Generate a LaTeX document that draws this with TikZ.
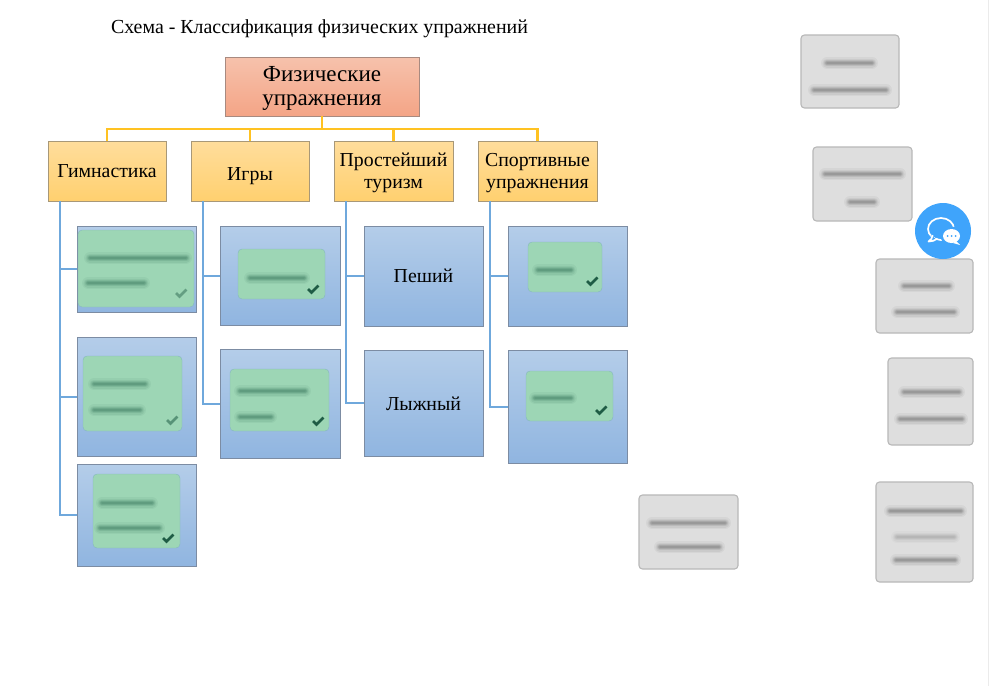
\documentclass[tikz,border=0pt]{standalone}
\usepackage{fontspec}
\setmainfont{Liberation Serif}
\newcommand{\bx}[7]{%
  \pgfmathsetmacro{\bw}{#5-#3}\pgfmathsetmacro{\bh}{#6-#4}%
  \pgfmathsetmacro{\cx}{(#3+#5)/2}\pgfmathsetmacro{\cy}{(#4+#6)/2}%
  \node[#1,minimum width=\bw pt,minimum height=\bh pt] (#2) at (\cx,\cy) {#7};}
% adds 2n to the box height, so that a centred node shows its text n lower
\newcommand{\dn}[2]{\raisebox{0pt}[\dimexpr\height+#1pt+#1pt\relax][\depth]{\begin{tabular}{@{}c@{}}#2\end{tabular}}}
\newcommand{\fz}[4]{%
  \draw[#4,opacity=.06,line width=12pt,line cap=round] (#1,#3) -- (#2,#3);
  \draw[#4,opacity=.08,line width=9pt,line cap=round] (#1,#3) -- (#2,#3);
  \draw[#4,opacity=.12,line width=6.5pt,line cap=round] (#1,#3) -- (#2,#3);
  \draw[#4,opacity=.16,line width=4pt,line cap=round] (#1,#3) -- (#2,#3);
  \draw[#4,opacity=.16,line width=2pt,line cap=round] (#1,#3) -- (#2,#3);}
\newcommand{\chk}[3][1]{%
  \draw[checkcol,line width=2.6pt,opacity=#1] (#2-5,#3) -- (#2-1.5,#3+3.5) -- (#2+5.5,#3-3.5);}
\definecolor{checkcol}{HTML}{1F5C45}
\definecolor{bluetrunk}{HTML}{6FA8DC}
\definecolor{yel}{HTML}{FFC222}
\definecolor{HDRtop}{HTML}{F6C2AC}
\definecolor{HDRbot}{HTML}{F4A486}
\definecolor{LVtop}{HTML}{FFDD9C}
\definecolor{LVbot}{HTML}{FFD06F}
\definecolor{BLtop}{HTML}{B4CDE9}
\definecolor{BLbot}{HTML}{90B5E0}
\definecolor{GRN}{HTML}{9DD6B5}
\definecolor{GRY}{HTML}{DEDEDE}
\definecolor{CHAT}{HTML}{3FA4FB}
\definecolor{BLedge}{HTML}{7C8CA3}
\definecolor{LVedge}{HTML}{A89878}
\definecolor{HDedge}{HTML}{A88A80}
\tikzset{
  x=1pt,y=-1pt,
  every node/.style={inner sep=0pt,outer sep=0pt,align=center},
  rootbox/.style={draw=HDedge,line width=.9pt,top color=HDRtop,bottom color=HDRbot,font=\fontsize{23}{24}\selectfont},
  levelbox/.style={draw=LVedge,line width=.9pt,top color=LVtop,bottom color=LVbot,font=\fontsize{19.8}{22}\selectfont},
  bluebox/.style={draw=BLedge,line width=.9pt,top color=BLtop,bottom color=BLbot,font=\fontsize{19.8}{22}\selectfont},
  greenbox/.style={fill=GRN,rounded corners=4pt,draw=GRN!85!blue,line width=.4pt},
  graybox/.style={fill=GRY,draw=black!28,line width=1.1pt,rounded corners=3.5pt},
  yline/.style={draw=yel,line width=2.2pt},
  bline/.style={draw=bluetrunk,line width=2pt},
}
\begin{document}
\begin{tikzpicture}
\useasboundingbox (0,0) rectangle (1000,686);
\fill[white] (0,0) rectangle (1000,686);
\draw[black!8,line width=1pt] (988,0) -- (988,686);
\node[font=\fontsize{19.9}{22}\selectfont,anchor=west] (title) at (111,29) {Схема - Классификация физических упражнений};
% boxes
\bx{rootbox}{root}{225}{57}{419}{116}{\dn{2}{Физические\\упражнения}}
\bx{levelbox}{gym}{48}{141}{166}{201}{\dn{2}{Гимнастика}}
\bx{levelbox}{game}{191}{141}{309}{201}{\dn{5}{Игры}}
\bx{levelbox}{tour}{334}{141}{453}{201}{\dn{2}{Простейший\\туризм}}
\bx{levelbox}{sport}{478}{141}{597}{201}{\dn{2}{Спортивные\\упражнения}}
\bx{bluebox}{ba}{77}{226}{196}{312}{}
\bx{bluebox}{bb}{77}{337}{196}{456}{}
\bx{bluebox}{bc}{77}{464}{196}{566}{}
\bx{bluebox}{bd}{220}{226}{340}{325}{}
\bx{bluebox}{be}{220}{349}{340}{458}{}
\bx{bluebox}{bf}{364}{226}{483}{326}{Пеший}
\bx{bluebox}{bg}{364}{350}{483}{456}{\dn{3}{Лыжный}}
\bx{bluebox}{bh}{508}{226}{627}{326}{}
\bx{bluebox}{bi}{508}{350}{627}{463}{}
% connectors
\coordinate (bus) at (322,129);
\draw[yline] (root.south) -- (bus);
\draw[yline] (bus) -| (gym.north);
\draw[yline] (bus) -| (game.north);
\draw[yline] (bus) -| (tour.north);
\draw[yline] (bus) -| (sport.north);
\foreach \p/\c in {gym/ba,gym/bb,gym/bc,game/bd,game/be,tour/bf,tour/bg,sport/bh,sport/bi}
  \draw[bline] ([xshift=12pt]\p.south west) |- (\c.west);
% green masked boxes
\bx{greenbox}{ga}{78}{230}{194}{307}{}
\bx{greenbox}{gb}{83}{356}{182}{431}{}
\bx{greenbox}{gc}{93}{474}{180}{548}{}
\bx{greenbox}{gd}{238}{249}{325}{299}{}
\bx{greenbox}{ge}{230}{369}{329}{431}{}
\bx{greenbox}{gf}{528}{242}{602}{292}{}
\bx{greenbox}{gg}{526}{371}{613}{421}{}
\fz{90}{186}{258}{checkcol}\fz{88}{144}{283}{checkcol}
\fz{94}{145}{384}{checkcol}\fz{94}{140}{410}{checkcol}
\fz{102}{152}{503}{checkcol}\fz{100}{159}{528}{checkcol}
\fz{250}{304}{278}{checkcol}
\fz{240}{305}{391}{checkcol}\fz{240}{271}{417}{checkcol}
\fz{538}{571}{270}{checkcol}
\fz{535}{571}{398}{checkcol}
\chk[.45]{181}{293}\chk[.55]{172}{420}\chk{168}{538}\chk{313}{289}\chk{318}{421}\chk{592}{281}\chk{601}{410}
% gray masked boxes
\bx{graybox}{ha}{801}{35}{899}{108}{}
\bx{graybox}{hb}{813}{147}{912}{221}{}
\bx{graybox}{hc}{876}{259}{973}{333}{}
\bx{graybox}{hd}{888}{358}{973}{445}{}
\bx{graybox}{he}{639}{495}{738}{569}{}
\bx{graybox}{hf}{876}{482}{973}{582}{}
\fz{827}{872}{63}{black!70}\fz{814}{886}{90}{black!70}
\fz{825}{900}{174}{black!70}\fz{850}{874}{202}{black!70}
\fz{904}{949}{286}{black!70}\fz{897}{954}{312}{black!70}
\fz{904}{959}{392}{black!70}\fz{900}{962}{419}{black!70}
\fz{652}{725}{523}{black!70}\fz{660}{719}{547}{black!70}
\fz{890}{961}{511}{black!70}\fz{897}{954}{537}{black!45}\fz{896}{955}{560}{black!70}
% chat button
\node[circle,fill=CHAT,minimum size=56pt] (chat) at (943,231) {};
\draw[white,line width=1.7pt] (941,229) ellipse[x radius=13,y radius=11];
\fill[CHAT] (931,235) -- (938,241) -- (930,243) -- cycle;
\draw[white,line width=1.7pt,line join=round] (932.5,235) .. controls (932.5,238) and (931,240) .. (928.5,241.5) .. controls (932,241.5) and (935,240.5) .. (937.5,238.5);
\fill[CHAT] (951.5,236) ellipse[x radius=11,y radius=9.5];
\fill[white] (951.5,236) ellipse[x radius=8.5,y radius=7];
\fill[white] (956,241) -- (960,245) -- (953,243) -- cycle;
\fill[CHAT] (947.5,236) circle[radius=1] (951.5,236) circle[radius=1] (955.5,236) circle[radius=1];
\end{tikzpicture}
\end{document}
